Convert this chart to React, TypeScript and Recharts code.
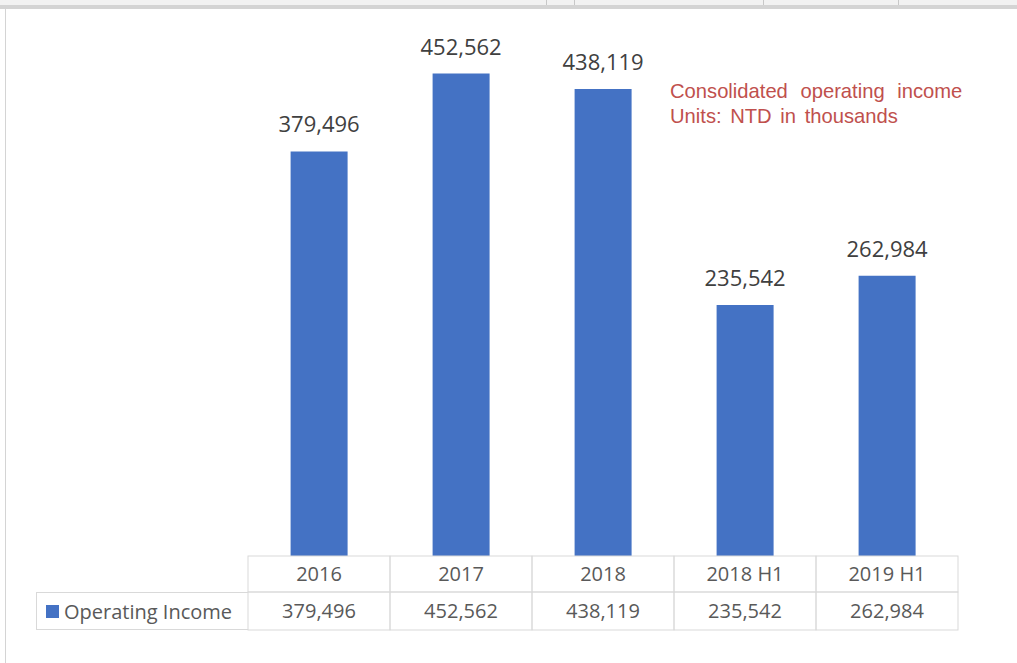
import { BarChart, Bar, XAxis, YAxis, LabelList } from 'recharts';

const categories = ['2016', '2017', '2018', '2018 H1', '2019 H1'];
const operatingIncome = [379496, 452562, 438119, 235542, 262984];
const seriesName = 'Operating Income';
const noteLines = ['Consolidated operating income', 'Units: NTD in thousands'];

const data = categories.map((c, i) => ({ period: c, value: operatingIncome[i] }));

const fmt = (v: number) => v.toLocaleString('en-US');
const FONT = '"Open Sans", sans-serif';
const GRID = '#d9d9d9';

// each x tick draws its own column of the data table under the bars
function TableTick(props: any) {
  const { x, y, payload, index } = props;
  const w = 142;
  return (
    <g>
      <rect x={x - w / 2} y={y} width={w} height={36} fill="none" stroke={GRID} />
      <rect x={x - w / 2} y={y + 36} width={w} height={38} fill="none" stroke={GRID} />
      <text x={x} y={y + 25} textAnchor="middle" fontSize={20} fill="#595959" fontFamily={FONT}>
        {payload.value}
      </text>
      <text x={x} y={y + 62} textAnchor="middle" fontSize={20} fill="#595959" fontFamily={FONT}>
        {fmt(operatingIncome[index])}
      </text>
    </g>
  );
}

export default function App() {
  return (
    <div style={{ position: 'fixed', left: 0, top: 0, width: 1017, height: 663, background: '#fff', overflow: 'hidden' }}>
      {/* spreadsheet frame */}
      <div style={{ position: 'absolute', left: 0, top: 0, width: 1017, height: 5, background: '#f2f2f2' }} />
      {[546, 574, 763, 898].map(x => (
        <div key={x} style={{ position: 'absolute', left: x, top: 0, width: 1, height: 5, background: '#c8c8c8' }} />
      ))}
      <div style={{ position: 'absolute', left: 0, top: 5, width: 1017, height: 4, background: '#d4d4d4' }} />
      <div style={{ position: 'absolute', left: 5, top: 9, width: 1, height: 654, background: '#d4d4d4' }} />

      <BarChart
        width={1017}
        height={663}
        data={data}
        margin={{ top: 23, right: 59, left: 248, bottom: 33 }}
        barCategoryGap="30%"
      >
        <YAxis hide domain={[0, 500000]} />
        <XAxis
          dataKey="period"
          height={74}
          axisLine={false}
          tickLine={false}
          tickSize={0}
          tickMargin={0}
          interval={0}
          tick={<TableTick />}
        />
        <Bar dataKey="value" fill="#4472c4" isAnimationActive={false}>
          <LabelList
            dataKey="value"
            position="top"
            offset={19}
            formatter={(v: any) => fmt(Number(v))}
            style={{ fontSize: 22, fill: '#404040', fontFamily: FONT }}
          />
        </Bar>
      </BarChart>

      {/* legend cell of the data table */}
      <div
        style={{
          position: 'absolute', left: 36, top: 592, width: 212, height: 38,
          border: `1px solid ${GRID}`, borderRight: 'none', boxSizing: 'border-box',
          display: 'flex', alignItems: 'center', fontFamily: FONT, fontSize: 20, color: '#595959',
        }}
      >
        <span style={{ display: 'inline-block', width: 13, height: 13, background: '#4472c4', marginLeft: 9, marginRight: 5 }} />
        {seriesName}
      </div>

      <div
        style={{
          position: 'absolute', left: 670, top: 79, fontFamily: '"Liberation Sans", Arial, sans-serif',
          fontSize: 20.2, lineHeight: '25px', color: '#c0504d',
        }}
      >
        {noteLines.map((l, i) => <div key={l} style={{ wordSpacing: i === 0 ? 7 : 3 }}>{l}</div>)}
      </div>
    </div>
  );
}
